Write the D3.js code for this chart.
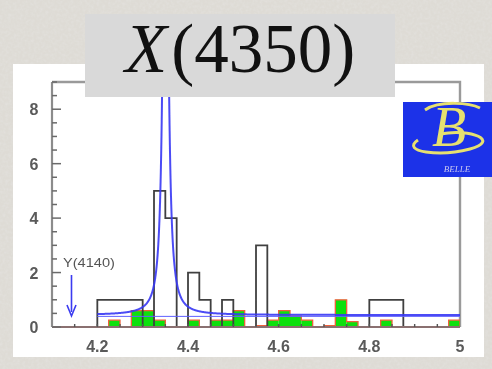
<!DOCTYPE html>
<html>
<head>
<meta charset="utf-8">
<script src="https://cdn.jsdelivr.net/npm/d3@7"></script>
<style>
  html, body { margin: 0; padding: 0; background: #dad7d1; }
  svg { display: block; }
</style>
</head>
<body>
<div id="chart"></div>
<script>
// Invariant mass (GeV) histogram: data, sideband and fitted resonance
const binLow = 4.2;
const binWidth = 0.025;
const dataCounts = [1, 1, 1, 1, 0, 5, 4, 0, 2, 1, 0, 1, 0, 0, 3, 0,
                    0, 0, 0, 0, 0, 0, 0, 0, 1, 1, 1, 0, 0, 0, 0, 0];
const sidebandCounts = [0, 0.25, 0, 0.6, 0.6, 0.25, 0, 0, 0.25, 0, 0.25, 0.25, 0.6, 0, 0.05, 0.25,
                        0.6, 0.4, 0.25, 0, 0.05, 1.0, 0.2, 0, 0, 0.25, 0, 0, 0, 0, 0, 0.25];
const xTickLabels = [4.2, 4.4, 4.6, 4.8, 5];
const yTickLabels = [0, 2, 4, 6, 8];
// Breit-Wigner fit on a flat background
const fitMass = 4.3506, fitWidth = 0.0115, fitPeak = 23, fitBkg = 0.44;
const bkgLevel = 0.39;
const markerMass = 4.143, markerLabel = "Y(4140)";
const titleMain = "X", titleRest = "(4350)";

const W = 492, H = 369;
const svg = d3.select("#chart").append("svg").attr("width", W).attr("height", H);
const defs = svg.append("defs");

// fine paper-like background grain
const tex = defs.append("filter").attr("id", "paper").attr("x", 0).attr("y", 0).attr("width", 1).attr("height", 1);
tex.append("feTurbulence").attr("type", "fractalNoise").attr("baseFrequency", 0.35).attr("numOctaves", 2).attr("seed", 3).attr("result", "n");
tex.append("feColorMatrix").attr("in", "n").attr("type", "matrix")
  .attr("values", "0 0 0 0 0.78  0 0 0 0 0.765  0 0 0 0 0.74  0 0 0 -1.2 0.75").attr("result", "c");
tex.append("feFlood").attr("flood-color", "#dedbd5").attr("result", "f");
tex.append("feMerge").selectAll("feMergeNode").data(["f", "c"]).join("feMergeNode").attr("in", d => d);
svg.append("rect").attr("width", W).attr("height", H).attr("filter", "url(#paper)");

const soft = defs.append("filter").attr("id", "soft");
soft.append("feGaussianBlur").attr("stdDeviation", 0.45);
const softer = defs.append("filter").attr("id", "softer");
softer.append("feGaussianBlur").attr("stdDeviation", 0.7);

// white panel
svg.append("rect").attr("x", 13).attr("y", 64).attr("width", 471).attr("height", 293).attr("fill", "#ffffff");

const x = d3.scaleLinear().domain([4.1, 5.0]).range([52, 460]);
const y = d3.scaleLinear().domain([0, 9]).range([327, 82]);

defs.append("clipPath").attr("id", "plotClip").append("rect")
  .attr("x", x(4.1)).attr("y", y(9)).attr("width", x(5) - x(4.1)).attr("height", y(0) - y(9));

const g = svg.append("g").attr("filter", "url(#soft)");

// frame (top and right)
g.append("path")
  .attr("d", `M${x(4.1)},${y(9)}H${x(5)}V${y(0)}`)
  .attr("fill", "none").attr("stroke", "#9a9a9a").attr("stroke-width", 2.4);

const bins = dataCounts.map((d, i) => ({
  x0: binLow + i * binWidth, x1: binLow + (i + 1) * binWidth, data: d, side: sidebandCounts[i]
}));

// sideband: green fill
const plot = g.append("g").attr("clip-path", "url(#plotClip)");
plot.selectAll("rect.side").data(bins.filter(b => b.side > 0)).join("rect")
  .attr("class", "side")
  .attr("x", b => x(b.x0)).attr("width", b => x(b.x1) - x(b.x0))
  .attr("y", b => y(b.side)).attr("height", b => y(0) - y(b.side))
  .attr("fill", "#10e010");

// step outline helper
function stepPath(key) {
  let p = `M${x(bins[0].x0)},${y(0)}`;
  bins.forEach(b => { p += `V${y(b[key])}H${x(b.x1)}`; });
  p += `V${y(0)}`;
  return p;
}

// bottom axis line
g.append("line").attr("x1", x(4.1)).attr("x2", x(5)).attr("y1", y(0)).attr("y2", y(0))
  .attr("stroke", "#8a7070").attr("stroke-width", 2);

plot.append("path").attr("d", stepPath("side"))
  .attr("fill", "none").attr("stroke", "#f0603a").attr("stroke-width", 1.3);

plot.append("path").attr("d", stepPath("data"))
  .attr("fill", "none").attr("stroke", "#404040").attr("stroke-width", 1.8);

// fit components
const fitX = d3.range(4.2, 5.0001, 0.0005);
const bw = m => fitBkg + fitPeak * (fitWidth / 2) ** 2 / ((m - fitMass) ** 2 + (fitWidth / 2) ** 2);
plot.append("line").attr("x1", x(4.2)).attr("x2", x(5)).attr("y1", y(bkgLevel)).attr("y2", y(bkgLevel))
  .attr("stroke", "#6060ff").attr("stroke-width", 1);
plot.append("path")
  .attr("d", d3.line().x(m => x(m)).y(m => y(bw(m)))(fitX))
  .attr("fill", "none").attr("stroke", "#3838f4").attr("stroke-width", 2).attr("stroke-opacity", 0.9);

// left axis with ticks
const ax = svg.append("g").attr("filter", "url(#soft)");
ax.append("line").attr("x1", x(4.1)).attr("x2", x(4.1)).attr("y1", y(9)).attr("y2", y(0))
  .attr("stroke", "#8c8c8c").attr("stroke-width", 2.2);
const yMinor = d3.range(0, 9.01, 0.5);
ax.selectAll("line.ytick").data(yMinor).join("line")
  .attr("class", "ytick")
  .attr("x1", x(4.1)).attr("x2", d => x(4.1) + (d % 2 === 0 ? 9 : 5))
  .attr("y1", d => y(d)).attr("y2", d => y(d))
  .attr("stroke", "#6a6a6a").attr("stroke-width", 1.5);
const xMinor = d3.range(4.15, 4.99, 0.05);
ax.selectAll("line.xtick").data(xMinor).join("line")
  .attr("class", "xtick")
  .attr("x1", d => x(d)).attr("x2", d => x(d))
  .attr("y1", y(0)).attr("y2", y(0) - 3)
  .attr("stroke", "#555").attr("stroke-width", 1.4);

// tick labels
const lab = svg.append("g").attr("filter", "url(#soft)")
  .attr("font-family", "'Liberation Sans', Arial, sans-serif").attr("font-size", 16)
  .attr("font-weight", "bold").attr("fill", "#5a5a5a");
lab.selectAll("text.y").data(yTickLabels).join("text")
  .attr("class", "y").attr("x", 34).attr("y", d => y(d) + 6)
  .attr("text-anchor", "middle").text(d => d);
lab.selectAll("text.x").data(xTickLabels).join("text")
  .attr("class", "x").attr("x", d => x(d)).attr("y", 352)
  .attr("text-anchor", "middle").text(d => d3.format("")(d));

// Y(4140) marker
const mk = svg.append("g").attr("filter", "url(#soft)");
mk.append("text").attr("x", 63).attr("y", 267)
  .attr("font-family", "'Liberation Sans', Arial, sans-serif").attr("font-size", 12)
  .attr("textLength", 52).attr("lengthAdjust", "spacingAndGlyphs")
  .attr("fill", "#555").text(markerLabel);
mk.append("line").attr("x1", x(markerMass)).attr("x2", x(markerMass)).attr("y1", 275).attr("y2", 312)
  .attr("stroke", "#3a3af0").attr("stroke-width", 1.6);
mk.append("path")
  .attr("d", `M${x(markerMass) - 4.5},${305}L${x(markerMass)},${316}L${x(markerMass) + 4.5},${305}`)
  .attr("fill", "none").attr("stroke", "#3a3af0").attr("stroke-width", 1.6);

// Belle logo
const logo = svg.append("g").attr("filter", "url(#softer)");
logo.append("rect").attr("x", 403).attr("y", 102).attr("width", 95).attr("height", 75).attr("fill", "#1c30e8");
logo.append("path")
  .attr("d", "M418,140 C400,152 440,157 470,149 C500,141 472,128 440,134")
  .attr("fill", "none").attr("stroke", "#e6e070").attr("stroke-width", 3);
logo.append("text").attr("x", 432).attr("y", 146)
  .attr("font-family", "'Liberation Serif', serif").attr("font-style", "italic").attr("font-size", 56)
  .attr("fill", "#e6e070").text("B");
logo.append("path")
  .attr("d", "M425,110 C440,100 470,103 480,108")
  .attr("fill", "none").attr("stroke", "#e6e070").attr("stroke-width", 3);
logo.append("text").attr("x", 457).attr("y", 172).attr("text-anchor", "middle")
  .attr("font-family", "'Liberation Serif', serif").attr("font-style", "italic").attr("font-size", 9)
  .attr("fill", "#c8c8f0").text("BELLE");

// title box
svg.append("rect").attr("x", 85).attr("y", 14).attr("width", 310).attr("height", 83).attr("fill", "#d9d9d9");
const title = svg.append("text").attr("x", 125).attr("y", 72)
  .attr("font-family", "'Liberation Serif', 'Times New Roman', serif").attr("font-size", 69)
  .attr("fill", "#111");
title.append("tspan").attr("font-style", "italic").text(titleMain);
title.append("tspan").attr("dx", 4).text(titleRest);
</script>
</body>
</html>
